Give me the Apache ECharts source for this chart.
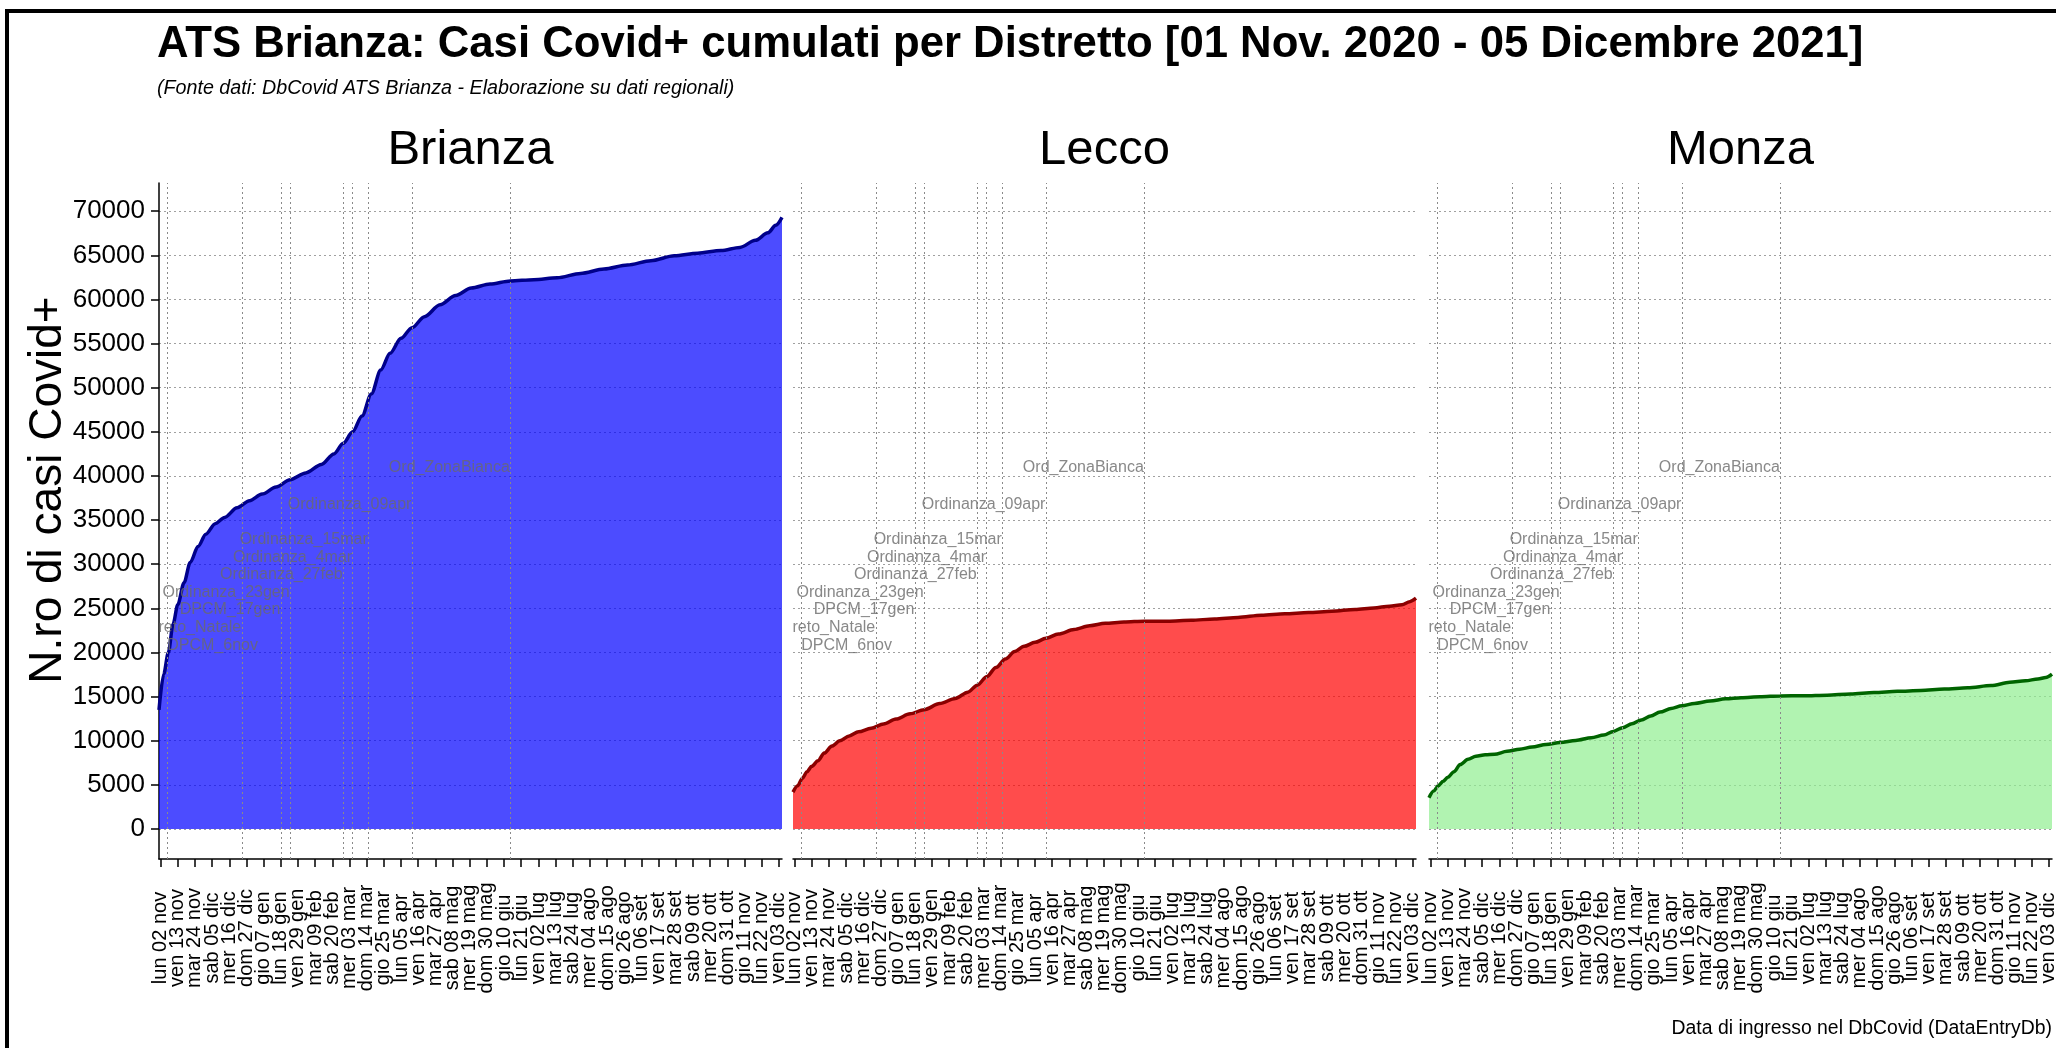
<!DOCTYPE html>
<html>
<head>
<meta charset="utf-8">
<title>ATS Brianza - Casi Covid+ cumulati per Distretto</title>
<script src="https://cdn.jsdelivr.net/npm/echarts@6/dist/echarts.min.js"></script>
<style>
    html, body { margin: 0; padding: 0; background: #fff; }
    #main { width: 2056px; height: 1048px; }
</style>
</head>
<body>
<div id="main"></div>
<script>
// asse x: un giorno per categoria, dal 01 nov 2020 al 05 dic 2021
var nDays = 400;
var firstTick = 1;
var tickEvery = 11;
var tickLabels = [
    'lun 02 nov', 'ven 13 nov', 'mar 24 nov', 'sab 05 dic', 'mer 16 dic', 'dom 27 dic',
    'gio 07 gen', 'lun 18 gen', 'ven 29 gen', 'mar 09 feb', 'sab 20 feb', 'mer 03 mar',
    'dom 14 mar', 'gio 25 mar', 'lun 05 apr', 'ven 16 apr', 'mar 27 apr', 'sab 08 mag',
    'mer 19 mag', 'dom 30 mag', 'gio 10 giu', 'lun 21 giu', 'ven 02 lug', 'mar 13 lug',
    'sab 24 lug', 'mer 04 ago', 'dom 15 ago', 'gio 26 ago', 'lun 06 set', 'ven 17 set',
    'mar 28 set', 'sab 09 ott', 'mer 20 ott', 'dom 31 ott', 'gio 11 nov', 'lun 22 nov',
    'ven 03 dic'
];
var yTicks = [0, 5000, 10000, 15000, 20000, 25000, 30000, 35000, 40000, 45000,
    50000, 55000, 60000, 65000, 70000];

var sampleDays = [0, 3, 6, 9, 12, 16, 20, 25, 30, 36, 42, 50, 58, 66, 75, 84, 94, 104,
    112, 118, 124, 130, 136, 142, 148, 155, 162, 170, 180, 190, 200, 212, 225, 240, 255,
    270, 285, 300, 315, 330, 345, 360, 372, 382, 390, 395, 399];
var brianza = [13500, 17550, 20010, 23200, 25400, 27900, 30200, 32000, 33400, 34600, 35300,
    36400, 37200, 37950, 38750, 39580, 40350, 41300, 42500, 43700, 45000, 46800, 49300,
    52000, 53900, 55600, 56800, 58050, 59400, 60450, 61300, 61750, 62100, 62250, 62450,
    62950, 63450, 63900, 64400, 64950, 65250, 65550, 65900, 66700, 67550, 68400, 69300];
var lecco = [4180, 4900, 5750, 6500, 7100, 7720, 8600, 9400, 10000, 10550, 11010, 11410,
    11900, 12450, 13050, 13520, 14210, 14800, 15500, 16300, 17250, 18300, 19250, 20100,
    20700, 21150, 21600, 22100, 22600, 23030, 23300, 23450, 23550, 23550, 23650, 23800,
    23970, 24220, 24380, 24520, 24680, 24880, 25050, 25250, 25420, 25760, 26150];
var monza = [3540, 4300, 4900, 5400, 5850, 6490, 7300, 7900, 8250, 8400, 8460, 8800, 9050,
    9280, 9580, 9800, 10030, 10350, 10650, 11060, 11480, 11920, 12360, 12800, 13250, 13650,
    13960, 14230, 14500, 14750, 14880, 14980, 15080, 15090, 15160, 15300, 15460, 15600,
    15700, 15850, 16000, 16250, 16620, 16800, 17000, 17160, 17550];

// provvedimenti: giorno della linea verticale e quota dell'etichetta
var eventNames = ['DPCM_6nov', 'reto_Natale', 'DPCM_17gen', 'Ordinanza_23gen', 'Ordinanza_27feb',
    'Ordinanza_4mar', 'Ordinanza_15mar', 'Ordinanza_09apr', 'Ord_ZonaBianca'];
var eventDays = [5, 53, 78, 84, 118, 124, 134, 162, 225];
var eventLabelY = [20800, 22820, 24870, 26810, 28820, 30760, 32770, 36760, 40900];

var FONT = 'Arial, "Liberation Sans", sans-serif';

var chart = echarts.init(document.getElementById('main'));

var dayCats = [];
for (var d = 0; d < nDays; d++) {
    dayCats.push(String(d));
}

function isTick(idx) {
    return idx >= firstTick && (idx - firstTick) % tickEvery === 0;
}
// etichette vuote agli estremi: sono loro a essere nascoste in caso di sovrapposizione
function isLabel(idx) {
    return idx === 0 || idx === nDays - 1 || isTick(idx);
}

var panels = [
    { name: 'Brianza', values: brianza, left: 159, fill: 'rgb(0,0,255)', line: '#00008b' },
    { name: 'Lecco', values: lecco, left: 793, fill: 'rgb(255,0,0)', line: '#8b0000' },
    { name: 'Monza', values: monza, left: 1429, fill: '#90ee90', line: '#006400' }
];
var gridTop = 183;
var gridHeight = 676;
var gridWidth = 623;

var grids = [], xAxes = [], yAxes = [], series = [], graphics = [];

panels.forEach(function (p, i) {
    grids.push({
        left: p.left, top: gridTop, width: gridWidth, height: gridHeight,
        containLabel: false, outerBoundsMode: 'none'
    });

    xAxes.push({
        type: 'category', gridIndex: i, data: dayCats, boundaryGap: false, z: 3,
        axisLine: { onZero: false, lineStyle: { color: '#000', width: 1.5 } },
        axisTick: { interval: isTick, length: 8, lineStyle: { color: '#000', width: 1.5 } },
        axisLabel: {
            interval: isLabel, rotate: 90, align: 'center', verticalAlign: 'middle',
            hideOverlap: false,
            margin: 79, fontSize: 20, color: '#000', fontFamily: FONT,
            formatter: function (v, idx) {
                return isTick(idx) ? tickLabels[(idx - firstTick) / tickEvery] : ' ';
            }
        },
        splitLine: { show: false }
    });

    yAxes.push({
        type: 'value', gridIndex: i, min: -3400, max: 73200,
        splitNumber: 15, minInterval: 5000, maxInterval: 5000,
        axisLine: { show: i === 0, lineStyle: { color: '#000', width: 1.5 } },
        axisTick: { show: i === 0, length: 8, customValues: yTicks, lineStyle: { color: '#000', width: 1.5 } },
        axisLabel: {
            show: i === 0, customValues: yTicks,
            margin: 14, fontSize: 26, color: '#000', fontFamily: FONT,
            formatter: function (v) { return String(v); }
        },
        splitLine: {
            show: true,
            lineStyle: { color: '#a0a0a0', width: 1, type: [2, 3] }
        }
    });

    series.push({
        name: p.name, type: 'line', xAxisIndex: i, yAxisIndex: i,
        data: sampleDays.map(function (day, k) { return [day, p.values[k]]; }),
        symbol: 'none', smooth: 0.3, smoothMonotone: 'x',
        lineStyle: { color: p.line, width: 3.5 },
        areaStyle: { color: p.fill, opacity: 0.7 },
        markLine: {
            silent: true, symbol: 'none',
            label: { show: false },
            lineStyle: { color: '#8a8a8a', width: 1, type: [2, 3] },
            data: eventDays.map(function (day) { return { xAxis: day }; })
        }
    });

    series.push({
        type: 'scatter', xAxisIndex: i, yAxisIndex: i, silent: true, z: 6,
        symbolSize: 1, itemStyle: { color: 'rgba(0,0,0,0)' },
        label: {
            show: true, distance: 0, formatter: '{b}',
            color: '#6a6a6a', fontSize: 16, fontFamily: FONT
        },
        data: eventNames.map(function (n, k) {
            return {
                name: n, value: [eventDays[k], eventLabelY[k]],
                label: { position: k === 0 ? 'right' : 'left' }
            };
        })
    });

    graphics.push({
        type: 'text', x: p.left + gridWidth / 2, y: 150,
        style: {
            text: p.name, fill: '#000', fontSize: 49, fontFamily: FONT,
            align: 'center', verticalAlign: 'middle'
        }
    });
});

// cornice nera (lato sinistro e superiore)
graphics.push({ type: 'line', shape: { x1: 7, y1: 9, x2: 7, y2: 1048 }, style: { stroke: '#000', lineWidth: 4 } });
graphics.push({ type: 'line', shape: { x1: 5, y1: 11, x2: 2056, y2: 11 }, style: { stroke: '#000', lineWidth: 4 } });

// titolo asse y
graphics.push({
    type: 'text', x: 48, y: 490, rotation: Math.PI / 2,
    style: {
        text: 'N.ro di casi Covid+', fill: '#000', fontSize: 46, fontFamily: FONT,
        align: 'center', verticalAlign: 'middle'
    }
});

var option = {
    backgroundColor: '#fff',
    animation: false,
    title: [{
        text: 'ATS Brianza: Casi Covid+ cumulati per Distretto [01 Nov. 2020 - 05 Dicembre 2021]',
        left: 157, top: 23, padding: 0,
        textStyle: { fontSize: 43.7, fontWeight: 'bold', color: '#000', fontFamily: FONT }
    }, {
        text: '(Fonte dati: DbCovid ATS Brianza - Elaborazione su dati regionali)',
        left: 157, top: 79, padding: 0,
        textStyle: { fontSize: 19.7, fontStyle: 'italic', fontWeight: 'normal', color: '#000', fontFamily: FONT }
    }, {
        text: 'Data di ingresso nel DbCovid (DataEntryDb)',
        right: 4, top: 1019, padding: 0,
        textStyle: { fontSize: 19.4, fontWeight: 'normal', color: '#000', fontFamily: FONT }
    }],
    grid: grids,
    xAxis: xAxes,
    yAxis: yAxes,
    series: series,
    graphic: graphics
};

chart.setOption(option);
</script>
</body>
</html>
